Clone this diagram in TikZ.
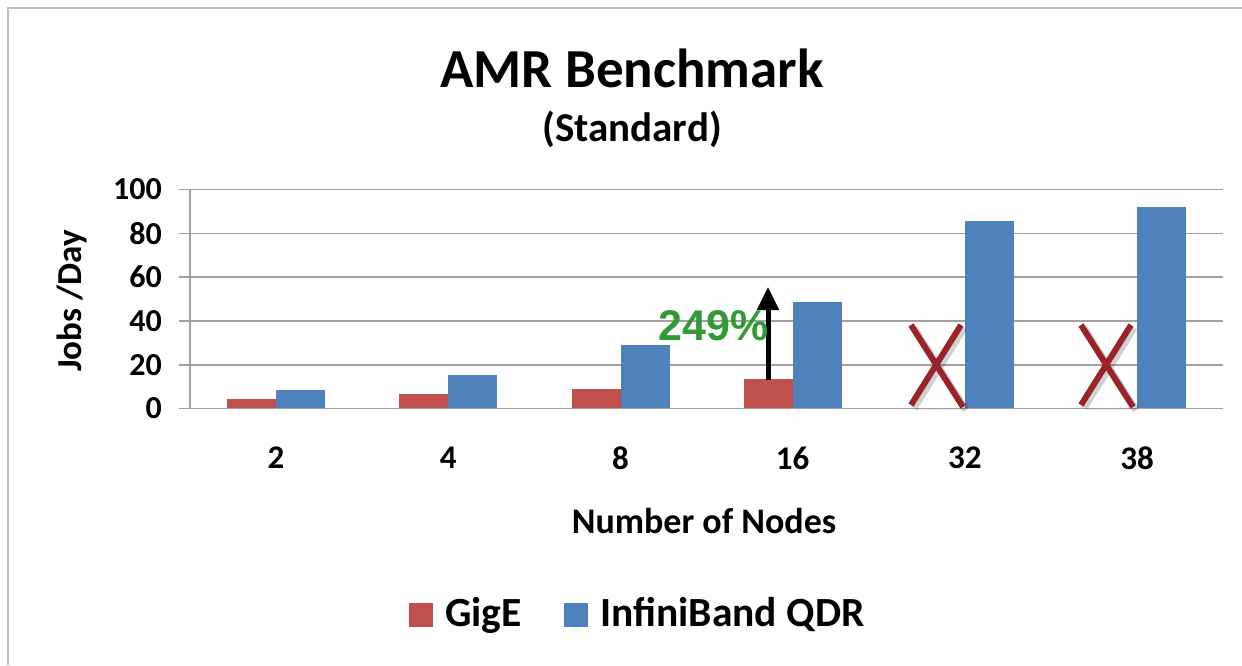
\documentclass[tikz,border=0pt]{standalone}
\usepackage{fontspec}
\setmainfont{Carlito}
\newfontfamily\arialfont{Liberation Sans}
\usetikzlibrary{arrows.meta}
\definecolor{gigered}{RGB}{192,80,77}
\definecolor{ibblue}{RGB}{79,129,189}
\definecolor{crossred}{RGB}{155,34,40}
\definecolor{gaingreen}{RGB}{51,153,51}
\definecolor{gridgray}{RGB}{160,160,160}
\definecolor{framegray}{RGB}{191,191,191}
\begin{document}
\begin{tikzpicture}[x=1pt, y=-1pt, every node/.style={inner sep=0pt, font=\bfseries},
        gridline/.style={draw=gridgray, line width=1.6pt},
        gigebar/.style={fill=gigered},
        ibbar/.style={fill=ibblue},
        crossline/.style={draw=crossred, line width=6pt},
        crossshadow/.style={draw=black, opacity=0.18, line width=7pt},
        gainarrow/.style={draw=black, line width=5pt, -{Triangle[width=21pt,length=23pt]}}]

        \useasboundingbox (0,0) rectangle (1242,665);
        \fill[white] (0,0) rectangle (1242,665);
        \draw[framegray, line width=2pt] (8,665) -- (8,8) -- (1242,8);

        \node (title) at (632,68) {\fontsize{55}{60}\selectfont AMR Benchmark};
        \node (subtitle) at (632,129) {\fontsize{41}{44}\selectfont (Standard)};

        \foreach \v in {0,20,...,100} {
            \draw[gridline] (179,{408.5-2.19*\v}) -- (1223,{408.5-2.19*\v});
            \node[anchor=east] (ytick\v) at (162,{408.5-2.19*\v}) {\fontsize{32}{34}\selectfont\v};
        }
        \draw[gridline] (190,189.5) -- (190,408.5);

        \foreach \i/\n/\r/\b in {1/2/4.2/8.3, 2/4/6.5/15.2, 3/8/9/29, 4/16/13.6/48.5, 5/32/0/85.5, 6/38/0/92} {
            \pgfmathsetmacro{\cx}{276.1+(\i-1)*172.2}
            \fill[gigebar] ({\cx-49},408.5) rectangle (\cx,{408.5-2.19*\r});
            \fill[ibbar] (\cx,408.5) rectangle ({\cx+49},{408.5-2.19*\b});
            \node (cat\i) at (\cx,458) {\fontsize{33}{35}\selectfont\n};
        }
        \draw[gridline] (179,408.5) -- (1223,408.5);

        \node[rotate=90] (ylabel) at (72,301) {\fontsize{35}{38}\selectfont Jobs /Day};
        \node (xlabel) at (704,521) {\fontsize{36}{40}\selectfont Number of Nodes};

        \coordinate (gainfrom) at (768,380);
        \coordinate (gainto) at (768,287);
        \draw[gainarrow] (gainfrom) -- (gainto);
        \node[anchor=base east, text=gaingreen] (gain) at (769,340.7) {\arialfont\fontsize{43}{46}\selectfont 249\%};

        \foreach \c in {936,1106} {
            \draw[crossshadow] ({\c-25+3},{325+3}) -- ({\c+27+3},{407+3}) ({\c+25+3},{325+3}) -- ({\c-25+3},{405+3});
            \draw[crossline] ({\c-25},325) -- ({\c+27},407) ({\c+25},325) -- ({\c-25},405);
        }

        \fill[gigebar] (409,603) rectangle (433,627);
        \node[anchor=west] (leggige) at (445,615) {\fontsize{41.5}{44}\selectfont GigE};
        \fill[ibbar] (564,603) rectangle (588,627);
        \node[anchor=west] (legib) at (600,615) {\fontsize{41.5}{44}\selectfont InfiniBand QDR};
    \end{tikzpicture}
\end{document}
